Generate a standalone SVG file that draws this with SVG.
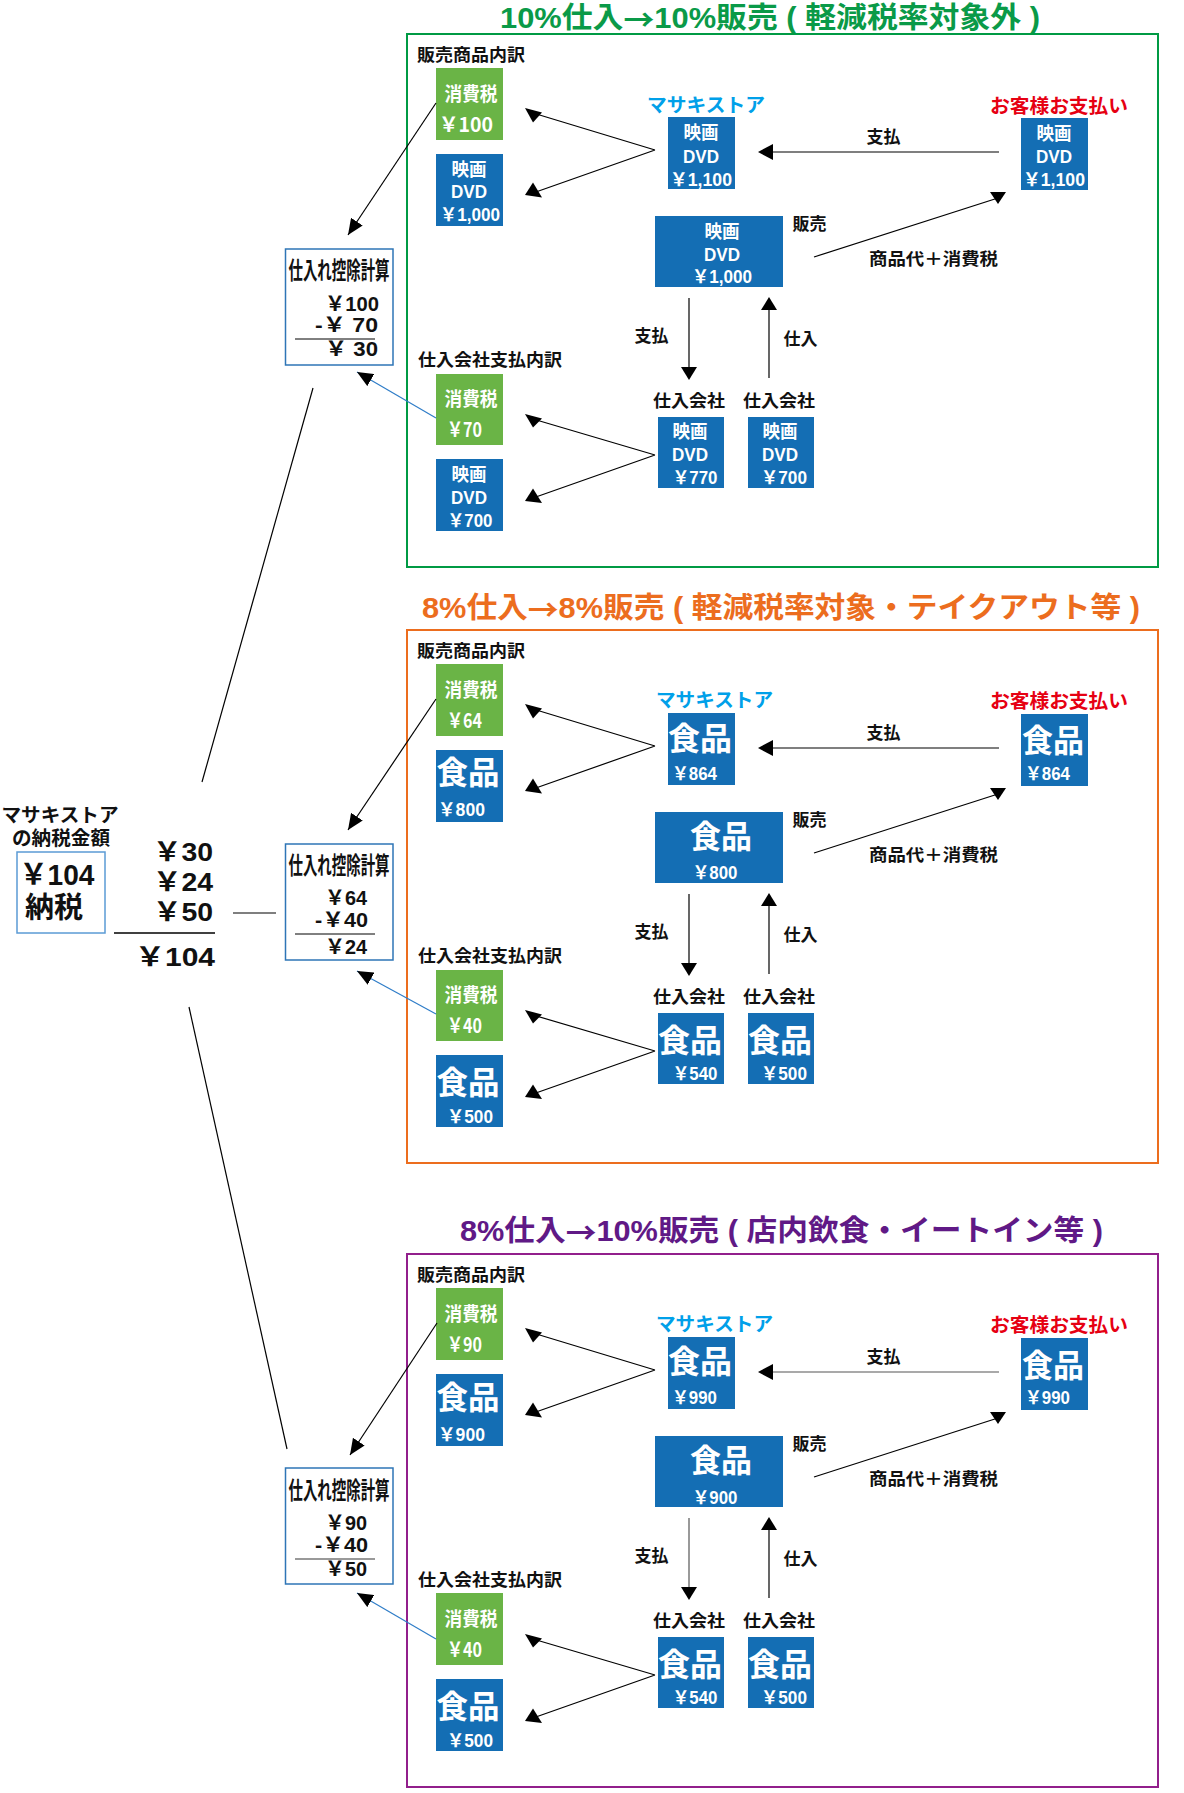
<svg xmlns="http://www.w3.org/2000/svg" width="1184" height="1793" viewBox="0 0 1184 1793">
<style>
text{font-family:"Noto Sans CJK JP","Noto Sans",sans-serif;font-weight:700;dominant-baseline:central;fill:#111}
.n{font-family:"Liberation Sans","Noto Sans CJK JP",sans-serif}
.lb{font-size:17px}
.c{text-anchor:middle}
.w{fill:#fff}
.v{font-size:18px;font-family:"Liberation Sans","Noto Sans CJK JP",sans-serif}
.big{font-size:32px;font-family:"Liberation Sans","Noto Sans CJK JP",sans-serif}
.gb{fill:#6ab446}
.bb{fill:#146eb4}
.calc{fill:#fff;stroke:#2e75b6;stroke-width:1.5}
.ln{stroke:#000;stroke-width:1.2;fill:none}
.gl{stroke:#555;stroke-width:1.2;fill:none}
.bl{stroke:#2f7dc8;stroke-width:1.2;fill:none}
.ah{fill:#000}
.store{fill:#00a0e9;font-size:19px}
.cust{fill:#e60012;font-size:19px}
.ttl{font-size:29px;font-family:"Liberation Sans","Noto Sans CJK JP",sans-serif}
.ar{font-family:"Noto Sans CJK JP",sans-serif}
.cv{font-size:20px;font-family:"Liberation Sans","Noto Sans CJK JP",sans-serif}
</style>
<defs>
<marker id="arr" viewBox="0 0 16 14" refX="16" refY="7" markerWidth="16" markerHeight="14" markerUnits="userSpaceOnUse" orient="auto"><path d="M0,0 L16,7 L0,14z" fill="#000"/></marker>
</defs>

<!-- Titles -->
<g id="title1"><text class="ttl" x="500" y="18" textLength="540" lengthAdjust="spacingAndGlyphs" style="fill:#0a9a48">10%仕入<tspan class="ar">→</tspan>10%販売 ( 軽減税率対象外 )</text></g>
<g id="title2"><text class="ttl" x="422" y="608" textLength="718" lengthAdjust="spacingAndGlyphs" style="fill:#ec6d1e">8%仕入<tspan class="ar">→</tspan>8%販売 ( 軽減税率対象・テイクアウト等 )</text></g>
<g id="title3"><text class="ttl" x="460" y="1231" textLength="643" lengthAdjust="spacingAndGlyphs" style="fill:#601986">8%仕入<tspan class="ar">→</tspan>10%販売 ( 店内飲食・イートイン等 )</text></g>

<!-- Frames -->
<rect x="407" y="34" width="751" height="533" fill="none" stroke="#009a44" stroke-width="2"/>
<rect x="407" y="630" width="751" height="533" fill="none" stroke="#ec6d1e" stroke-width="2"/>
<rect x="407" y="1254" width="751" height="533" fill="none" stroke="#921f8c" stroke-width="2"/>

<!-- Summary -->
<g id="summary">
<text x="60" y="815" class="c n" style="font-size:19px" textLength="117" lengthAdjust="spacingAndGlyphs">マサキストア</text>
<text x="61" y="838" class="c n" style="font-size:19px" textLength="98" lengthAdjust="spacingAndGlyphs">の納税金額</text>
<rect x="17" y="852" width="88" height="81" fill="#fff" stroke="#5b9bd5" stroke-width="1.5"/>
<text x="57" y="875" class="c n" style="font-size:29px" textLength="75" lengthAdjust="spacingAndGlyphs">￥104</text>
<text x="54" y="908" class="c n" style="font-size:29px" textLength="58" lengthAdjust="spacingAndGlyphs">納税</text>
</g>
<g id="sum-calc">
<text x="183" y="852" class="c n" style="font-size:26px" textLength="60" lengthAdjust="spacingAndGlyphs">￥30</text>
<text x="183" y="882" class="c n" style="font-size:26px" textLength="60" lengthAdjust="spacingAndGlyphs">￥24</text>
<text x="183" y="912" class="c n" style="font-size:26px" textLength="60" lengthAdjust="spacingAndGlyphs">￥50</text>
<line x1="114" y1="933" x2="215" y2="933" stroke="#000" stroke-width="1.5"/>
<text x="175" y="957" class="c n" style="font-size:26px" textLength="80" lengthAdjust="spacingAndGlyphs">￥104</text>
</g>

<!-- Calc boxes -->
<g id="calc1">
<rect class="calc" x="285.5" y="249" width="107.5" height="116"/>
<text x="339" y="270" class="c n" style="font-size:24px" textLength="101" lengthAdjust="spacingAndGlyphs">仕入れ控除計算</text>
<text x="352" y="304" class="c cv" textLength="54" lengthAdjust="spacingAndGlyphs">￥100</text>
<text x="346.5" y="325" class="c cv" textLength="63" lengthAdjust="spacingAndGlyphs">-￥ 70</text>
<line x1="295" y1="339" x2="375" y2="339" stroke="#000" stroke-width="1"/>
<text x="351.5" y="349" class="c cv" textLength="53" lengthAdjust="spacingAndGlyphs">￥ 30</text>
</g>
<g id="calc2" transform="translate(0,595)">
<rect class="calc" x="285.5" y="249" width="107.5" height="116"/>
<text x="339" y="270" class="c n" style="font-size:24px" textLength="101" lengthAdjust="spacingAndGlyphs">仕入れ控除計算</text>
<text x="346" y="303" class="c cv" textLength="42" lengthAdjust="spacingAndGlyphs">￥64</text>
<text x="341.5" y="325" class="c cv" textLength="53" lengthAdjust="spacingAndGlyphs">-￥40</text>
<line x1="295" y1="339" x2="375" y2="339" stroke="#000" stroke-width="1"/>
<text x="346" y="352" class="c cv" textLength="42" lengthAdjust="spacingAndGlyphs">￥24</text>
</g>
<g id="calc3" transform="translate(0,1219)">
<rect class="calc" x="285.5" y="249" width="107.5" height="116"/>
<text x="339" y="271" class="c n" style="font-size:24px" textLength="101" lengthAdjust="spacingAndGlyphs">仕入れ控除計算</text>
<text x="346" y="304" class="c cv" textLength="42" lengthAdjust="spacingAndGlyphs">￥90</text>
<text x="341.5" y="326" class="c cv" textLength="53" lengthAdjust="spacingAndGlyphs">-￥40</text>
<line x1="295" y1="340" x2="375" y2="340" stroke="#777" stroke-width="1.5"/>
<text x="346" y="350" class="c cv" textLength="42" lengthAdjust="spacingAndGlyphs">￥50</text>
</g>

<!-- Section 1 nodes -->
<g id="sec1">
<g id="s1-lbl-sales"><text class="lb" x="417" y="53" textLength="108" lengthAdjust="spacingAndGlyphs">販売商品内訳</text></g>
<g id="s1-lbl-buy"><text class="lb" x="418" y="358" textLength="144" lengthAdjust="spacingAndGlyphs">仕入会社支払内訳</text></g>
<g id="s1-tax"><rect class="gb" x="436" y="68" width="67" height="72"/>
<text class="w c" x="471" y="92" style="font-size:19px" textLength="53" lengthAdjust="spacingAndGlyphs">消費税</text>
<text class="w c" x="466" y="123" style="font-size:20px" textLength="54" lengthAdjust="spacingAndGlyphs">￥100</text></g>
<g id="s1-goods"><rect class="bb" x="436" y="154" width="67" height="72"/>
<text class="w c v" x="469" y="170" textLength="35" lengthAdjust="spacingAndGlyphs">映画</text>
<text class="w c v" x="469" y="192" textLength="36" lengthAdjust="spacingAndGlyphs">DVD</text>
<text class="w c v" x="470" y="215" textLength="60" lengthAdjust="spacingAndGlyphs">￥1,000</text></g>
<g id="s1-store-lbl"><text class="store c" x="706" y="103" textLength="118" lengthAdjust="spacingAndGlyphs">マサキストア</text></g>
<g id="s1-store"><rect class="bb" x="668" y="117" width="67" height="72"/>
<text class="w c v" x="701" y="133" textLength="35" lengthAdjust="spacingAndGlyphs">映画</text>
<text class="w c v" x="701" y="157" textLength="36" lengthAdjust="spacingAndGlyphs">DVD</text>
<text class="w c v" x="701" y="180" textLength="62" lengthAdjust="spacingAndGlyphs">￥1,100</text></g>
<g id="s1-cust-lbl"><text class="cust c" x="1059" y="104" textLength="138" lengthAdjust="spacingAndGlyphs">お客様お支払い</text></g>
<g id="s1-cust"><rect class="bb" x="1021" y="118" width="67" height="72"/>
<text class="w c v" x="1054" y="134" textLength="35" lengthAdjust="spacingAndGlyphs">映画</text>
<text class="w c v" x="1054" y="157" textLength="36" lengthAdjust="spacingAndGlyphs">DVD</text>
<text class="w c v" x="1054" y="180" textLength="62" lengthAdjust="spacingAndGlyphs">￥1,100</text></g>
<g id="s1-sale"><rect class="bb" x="655" y="216" width="128" height="71"/>
<text class="w c v" x="722" y="232" textLength="35" lengthAdjust="spacingAndGlyphs">映画</text>
<text class="w c v" x="722" y="255" textLength="36" lengthAdjust="spacingAndGlyphs">DVD</text>
<text class="w c v" x="722" y="277" textLength="60" lengthAdjust="spacingAndGlyphs">￥1,000</text></g>
<g id="s1-sup1-lbl"><text class="lb c" x="689" y="399" textLength="72" lengthAdjust="spacingAndGlyphs">仕入会社</text></g>
<g id="s1-sup2-lbl"><text class="lb c" x="779" y="399" textLength="72" lengthAdjust="spacingAndGlyphs">仕入会社</text></g>
<g id="s1-sup1"><rect class="bb" x="658" y="417" width="66" height="71"/>
<text class="w c v" x="690" y="432" textLength="35" lengthAdjust="spacingAndGlyphs">映画</text>
<text class="w c v" x="690" y="455" textLength="36" lengthAdjust="spacingAndGlyphs">DVD</text>
<text class="w c v" x="695" y="478" textLength="45" lengthAdjust="spacingAndGlyphs">￥770</text></g>
<g id="s1-sup2"><rect class="bb" x="748" y="417" width="66" height="71"/>
<text class="w c v" x="780" y="432" textLength="35" lengthAdjust="spacingAndGlyphs">映画</text>
<text class="w c v" x="780" y="455" textLength="36" lengthAdjust="spacingAndGlyphs">DVD</text>
<text class="w c v" x="784" y="478" textLength="46" lengthAdjust="spacingAndGlyphs">￥700</text></g>
<g id="s1-tax2"><rect class="gb" x="436" y="374" width="67" height="71"/>
<text class="w c" x="471" y="397" style="font-size:19px" textLength="53" lengthAdjust="spacingAndGlyphs">消費税</text>
<text class="w" x="447" y="428" style="font-size:20px" textLength="35" lengthAdjust="spacingAndGlyphs">￥70</text></g>
<g id="s1-goods2"><rect class="bb" x="436" y="459" width="67" height="72"/>
<text class="w c v" x="469" y="475" textLength="35" lengthAdjust="spacingAndGlyphs">映画</text>
<text class="w c v" x="469" y="498" textLength="36" lengthAdjust="spacingAndGlyphs">DVD</text>
<text class="w c v" x="470" y="521" textLength="45" lengthAdjust="spacingAndGlyphs">￥700</text></g>
<g id="s1-lbls">
<text class="lb c" x="883.5" y="135">支払</text>
<text class="lb c" x="809.5" y="222">販売</text>
<text class="lb c" x="933.5" y="257" textLength="129" lengthAdjust="spacingAndGlyphs">商品代＋消費税</text>
<text class="lb c" x="651.5" y="334">支払</text>
<text class="lb c" x="800.5" y="337">仕入</text>
</g>
</g>

<!-- Section 2 nodes -->
<g id="sec2" transform="translate(0,596)">
<g id="s2-lbl-sales"><text class="lb" x="417" y="53" textLength="108" lengthAdjust="spacingAndGlyphs">販売商品内訳</text></g>
<g id="s2-lbl-buy"><text class="lb" x="418" y="358" textLength="144" lengthAdjust="spacingAndGlyphs">仕入会社支払内訳</text></g>
<g id="s2-tax"><rect class="gb" x="436" y="68" width="67" height="72"/>
<text class="w c" x="471" y="92" style="font-size:19px" textLength="53" lengthAdjust="spacingAndGlyphs">消費税</text>
<text class="w" x="447" y="123" style="font-size:20px" textLength="35" lengthAdjust="spacingAndGlyphs">￥64</text></g>
<g id="s2-goods"><rect class="bb" x="436" y="154" width="67" height="72"/>
<text class="w c big" x="468" y="177" textLength="63" lengthAdjust="spacingAndGlyphs">食品</text>
<text class="w v" x="438" y="214" textLength="47" lengthAdjust="spacingAndGlyphs">￥800</text></g>
<g id="s2-store-lbl"><text class="store c" x="714.5" y="102" textLength="117" lengthAdjust="spacingAndGlyphs">マサキストア</text></g>
<g id="s2-store"><rect class="bb" x="668" y="117" width="67" height="72"/>
<text class="w c big" x="700" y="143" textLength="64" lengthAdjust="spacingAndGlyphs">食品</text>
<text class="w v" x="672" y="178" textLength="45" lengthAdjust="spacingAndGlyphs">￥864</text></g>
<g id="s2-cust-lbl"><text class="cust c" x="1059" y="103" textLength="138" lengthAdjust="spacingAndGlyphs">お客様お支払い</text></g>
<g id="s2-cust"><rect class="bb" x="1021" y="118" width="67" height="72"/>
<text class="w c big" x="1053" y="145" textLength="62" lengthAdjust="spacingAndGlyphs">食品</text>
<text class="w v" x="1025" y="178" textLength="45" lengthAdjust="spacingAndGlyphs">￥864</text></g>
<g id="s2-sale"><rect class="bb" x="655" y="216" width="128" height="71"/>
<text class="w c big" x="721" y="241" textLength="62" lengthAdjust="spacingAndGlyphs">食品</text>
<text class="w c v" x="715" y="277" textLength="45" lengthAdjust="spacingAndGlyphs">￥800</text></g>
<g id="s2-sup1-lbl"><text class="lb c" x="689" y="399" textLength="72" lengthAdjust="spacingAndGlyphs">仕入会社</text></g>
<g id="s2-sup2-lbl"><text class="lb c" x="779" y="399" textLength="72" lengthAdjust="spacingAndGlyphs">仕入会社</text></g>
<g id="s2-sup1"><rect class="bb" x="658" y="417" width="66" height="71"/>
<text class="w c big" x="690" y="445" textLength="64" lengthAdjust="spacingAndGlyphs">食品</text>
<text class="w c v" x="695" y="478" textLength="45" lengthAdjust="spacingAndGlyphs">￥540</text></g>
<g id="s2-sup2"><rect class="bb" x="748" y="417" width="66" height="71"/>
<text class="w c big" x="780" y="445" textLength="64" lengthAdjust="spacingAndGlyphs">食品</text>
<text class="w c v" x="784" y="478" textLength="46" lengthAdjust="spacingAndGlyphs">￥500</text></g>
<g id="s2-tax2"><rect class="gb" x="436" y="374" width="67" height="71"/>
<text class="w c" x="471" y="397" style="font-size:19px" textLength="53" lengthAdjust="spacingAndGlyphs">消費税</text>
<text class="w" x="447" y="428" style="font-size:20px" textLength="35" lengthAdjust="spacingAndGlyphs">￥40</text></g>
<g id="s2-goods2"><rect class="bb" x="436" y="459" width="67" height="72"/>
<text class="w c big" x="468" y="487" textLength="63" lengthAdjust="spacingAndGlyphs">食品</text>
<text class="w c v" x="470" y="521" textLength="46" lengthAdjust="spacingAndGlyphs">￥500</text></g>
<g id="s2-lbls">
<text class="lb c" x="883.5" y="135">支払</text>
<text class="lb c" x="809.5" y="222">販売</text>
<text class="lb c" x="933.5" y="257" textLength="129" lengthAdjust="spacingAndGlyphs">商品代＋消費税</text>
<text class="lb c" x="651.5" y="334">支払</text>
<text class="lb c" x="800.5" y="337">仕入</text>
</g>
</g>

<!-- Section 3 nodes -->
<g id="sec3" transform="translate(0,1220)">
<g id="s3-lbl-sales"><text class="lb" x="417" y="53" textLength="108" lengthAdjust="spacingAndGlyphs">販売商品内訳</text></g>
<g id="s3-lbl-buy"><text class="lb" x="418" y="358" textLength="144" lengthAdjust="spacingAndGlyphs">仕入会社支払内訳</text></g>
<g id="s3-tax"><rect class="gb" x="436" y="68" width="67" height="72"/>
<text class="w c" x="471" y="92" style="font-size:19px" textLength="53" lengthAdjust="spacingAndGlyphs">消費税</text>
<text class="w" x="447" y="123" style="font-size:20px" textLength="35" lengthAdjust="spacingAndGlyphs">￥90</text></g>
<g id="s3-goods"><rect class="bb" x="436" y="154" width="67" height="72"/>
<text class="w c big" x="468" y="178" textLength="63" lengthAdjust="spacingAndGlyphs">食品</text>
<text class="w v" x="438" y="215" textLength="47" lengthAdjust="spacingAndGlyphs">￥900</text></g>
<g id="s3-store-lbl"><text class="store c" x="714.5" y="102" textLength="117" lengthAdjust="spacingAndGlyphs">マサキストア</text></g>
<g id="s3-store"><rect class="bb" x="668" y="117" width="67" height="72"/>
<text class="w c big" x="700" y="142" textLength="64" lengthAdjust="spacingAndGlyphs">食品</text>
<text class="w v" x="672" y="178" textLength="45" lengthAdjust="spacingAndGlyphs">￥990</text></g>
<g id="s3-cust-lbl"><text class="cust c" x="1059" y="103" textLength="138" lengthAdjust="spacingAndGlyphs">お客様お支払い</text></g>
<g id="s3-cust"><rect class="bb" x="1021" y="118" width="67" height="72"/>
<text class="w c big" x="1053" y="146" textLength="62" lengthAdjust="spacingAndGlyphs">食品</text>
<text class="w v" x="1025" y="178" textLength="45" lengthAdjust="spacingAndGlyphs">￥990</text></g>
<g id="s3-sale"><rect class="bb" x="655" y="216" width="128" height="71"/>
<text class="w c big" x="721" y="241" textLength="62" lengthAdjust="spacingAndGlyphs">食品</text>
<text class="w c v" x="715" y="278" textLength="45" lengthAdjust="spacingAndGlyphs">￥900</text></g>
<g id="s3-sup1-lbl"><text class="lb c" x="689" y="399" textLength="72" lengthAdjust="spacingAndGlyphs">仕入会社</text></g>
<g id="s3-sup2-lbl"><text class="lb c" x="779" y="399" textLength="72" lengthAdjust="spacingAndGlyphs">仕入会社</text></g>
<g id="s3-sup1"><rect class="bb" x="658" y="417" width="66" height="71"/>
<text class="w c big" x="690" y="445" textLength="64" lengthAdjust="spacingAndGlyphs">食品</text>
<text class="w c v" x="695" y="478" textLength="45" lengthAdjust="spacingAndGlyphs">￥540</text></g>
<g id="s3-sup2"><rect class="bb" x="748" y="417" width="66" height="71"/>
<text class="w c big" x="780" y="445" textLength="64" lengthAdjust="spacingAndGlyphs">食品</text>
<text class="w c v" x="784" y="478" textLength="46" lengthAdjust="spacingAndGlyphs">￥500</text></g>
<g id="s3-tax2"><rect class="gb" x="436" y="373" width="67" height="72"/>
<text class="w c" x="471" y="397" style="font-size:19px" textLength="53" lengthAdjust="spacingAndGlyphs">消費税</text>
<text class="w" x="447" y="428" style="font-size:20px" textLength="35" lengthAdjust="spacingAndGlyphs">￥40</text></g>
<g id="s3-goods2"><rect class="bb" x="436" y="459" width="67" height="72"/>
<text class="w c big" x="468" y="487" textLength="63" lengthAdjust="spacingAndGlyphs">食品</text>
<text class="w c v" x="470" y="521" textLength="46" lengthAdjust="spacingAndGlyphs">￥500</text></g>
<g id="s3-lbls">
<text class="lb c" x="883.5" y="135">支払</text>
<text class="lb c" x="809.5" y="222">販売</text>
<text class="lb c" x="933.5" y="257" textLength="129" lengthAdjust="spacingAndGlyphs">商品代＋消費税</text>
<text class="lb c" x="651.5" y="334">支払</text>
<text class="lb c" x="800.5" y="337">仕入</text>
</g>
</g>

<!-- Connectors -->
<g id="connectors">
<line class="ln" x1="313" y1="388" x2="202" y2="782"/>
<line class="ln" x1="233" y1="913" x2="276" y2="913"/>
<line class="ln" x1="189" y1="1007" x2="287" y2="1449"/>
<g id="conn-s1">
<path class="ln" d="M655,150 L533,113 M655,150 L533,193"/>
<polygon class="ah" points="525,108 542,112.5 533,122.5"/>
<polygon class="ah" points="525,195 533,182.5 542,197.5"/>
<line class="ln" x1="773" y1="152" x2="999" y2="152"/>
<polygon class="ah" points="758,152 773,144 773,160"/>
<line class="ln" x1="814" y1="257" x2="998" y2="198"/>
<polygon class="ah" points="990,192 1006,192 998,204"/>
<line class="ln" x1="689" y1="298" x2="689" y2="367"/>
<polygon class="ah" points="681,367 697,367 689,380"/>
<line class="ln" x1="769" y1="310" x2="769" y2="378"/>
<polygon class="ah" points="761,310 777,310 769,297"/>
<path class="ln" d="M655,455 L533,419 M655,455 L533,498"/>
<polygon class="ah" points="525,414 542,418.5 533,427.5"/>
<polygon class="ah" points="525,501 533,488.5 542,503"/>
<line class="ln" x1="436" y1="103" x2="348" y2="235" marker-end="url(#arr)"/>
<line class="bl" x1="436" y1="418" x2="357" y2="372" marker-end="url(#arr)"/>
</g>
<g id="conn-s2" transform="translate(0,596)">
<path class="ln" d="M655,150 L533,113 M655,150 L533,193"/>
<polygon class="ah" points="525,108 542,112.5 533,122.5"/>
<polygon class="ah" points="525,195 533,182.5 542,197.5"/>
<line class="ln" x1="773" y1="152" x2="999" y2="152"/>
<polygon class="ah" points="758,152 773,144 773,160"/>
<line class="ln" x1="814" y1="257" x2="998" y2="198"/>
<polygon class="ah" points="990,192 1006,192 998,204"/>
<line class="ln" x1="689" y1="298" x2="689" y2="367"/>
<polygon class="ah" points="681,367 697,367 689,380"/>
<line class="ln" x1="769" y1="310" x2="769" y2="378"/>
<polygon class="ah" points="761,310 777,310 769,297"/>
<path class="ln" d="M655,455 L533,419 M655,455 L533,498"/>
<polygon class="ah" points="525,414 542,418.5 533,427.5"/>
<polygon class="ah" points="525,501 533,488.5 542,503"/>
<line class="ln" x1="436" y1="103" x2="348" y2="234" marker-end="url(#arr)"/>
<line class="bl" x1="436" y1="418" x2="357" y2="375" marker-end="url(#arr)"/>
</g>
<g id="conn-s3" transform="translate(0,1220)">
<path class="ln" d="M655,150 L533,113 M655,150 L533,193"/>
<polygon class="ah" points="525,108 542,112.5 533,122.5"/>
<polygon class="ah" points="525,195 533,182.5 542,197.5"/>
<line class="gl" x1="773" y1="152" x2="999" y2="152"/>
<polygon class="ah" points="758,152 773,144 773,160"/>
<line class="ln" x1="814" y1="257" x2="998" y2="198"/>
<polygon class="ah" points="990,192 1006,192 998,204"/>
<line class="gl" x1="689" y1="298" x2="689" y2="367"/>
<polygon class="ah" points="681,367 697,367 689,380"/>
<line class="ln" x1="769" y1="310" x2="769" y2="378"/>
<polygon class="ah" points="761,310 777,310 769,297"/>
<path class="ln" d="M655,455 L533,419 M655,455 L533,498"/>
<polygon class="ah" points="525,414 542,418.5 533,427.5"/>
<polygon class="ah" points="525,501 533,488.5 542,503"/>
<line class="ln" x1="437" y1="103" x2="350" y2="235" marker-end="url(#arr)"/>
<line class="bl" x1="436" y1="419" x2="357" y2="373" marker-end="url(#arr)"/>
</g>
</g>
</svg>
